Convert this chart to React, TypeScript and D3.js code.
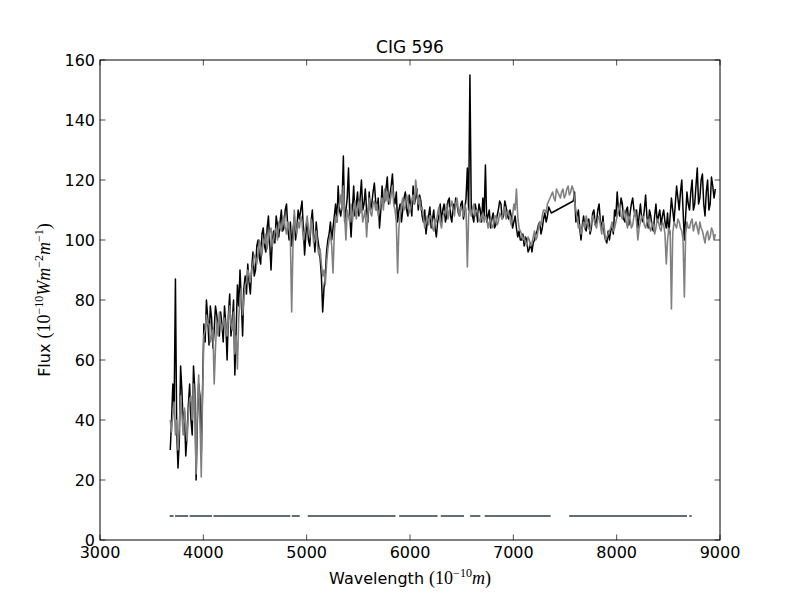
import React from "react";
import * as d3 from "d3";

// wavelength grid (Angstrom), step 12.5
const wlStart = 3680;
const wlStep = 12.5;

// observed spectrum (black), null = not observed
const fluxObs: (number | null)[] = [
  30, 40, 52, 44, 87, 36, 24, 33, 58, 50, 38, 43, 28, 35, 45, 52, 40, 35, 58, 50,
  20, 40, 52, 48, 28, 50, 72, 66, 80, 74, 65, 78, 74, 64, 70, 78, 75, 70, 68, 76,
  72, 66, 78, 72, 60, 75, 82, 68, 73, 80, 55, 70, 85, 78, 90, 80, 68, 84, 88, 82,
  92, 86, 82, 90, 96, 88, 90, 98, 100, 94, 92, 102, 104, 98, 96, 104, 108, 99, 90, 100,
  103, 99, 108, 105, 101, 106, 110, 103, 104, 110, 112, 104, 100, 106, 98, 103, 108, 100, 104, 110,
  107, 110, 113, 104, 95, 102, 107, 100, 98, 106, 110, 102, 96, 106, 101, 98, 94, 88, 76, 84,
  88, 96, 100, 102, 106, 100, 104, 108, 112, 106, 118, 110, 108, 112, 128, 106, 110, 114, 124, 108,
  101, 110, 118, 108, 112, 116, 108, 114, 120, 110, 112, 117, 110, 106, 116, 110, 112, 116, 119, 113,
  110, 114, 104, 110, 118, 112, 113, 117, 121, 112, 115, 118, 122, 114, 112, 116, 106, 110, 112, 106,
  110, 114, 116, 110, 108, 115, 112, 108, 118, 112, 114, 117, 110, 115, 113, 108, 106, 110, 102, 106,
  108, 111, 104, 107, 110, 104, 101, 106, 108, 112, 106, 110, 112, 106, 108, 113, 114, 108, 106, 112,
  110, 114, 112, 109, 108, 112, 113, 107, 110, 114, 124, 110, 155, 112, 108, 106, 112, 110, 106, 112,
  110, 106, 114, 108, 125, 106, 108, 110, 104, 107, 109, 104, 105, 108, 110, 113, 112, 107, 108, 113,
  111, 108, 107, 110, 108, 104, 106, 108, 104, 101, 103, 100, 100, 102, 98, 101, 100, 96, 97, 99,
  96, 99, 100, 102, 103, 105, 106, 102, 104, 107, 109, 106, 108, 111, 110, 109, null, null, null, null,
  null, null, null, null, null, null, null, null, null, null, null, null, 113, 116, 106, 108, 110, 104, 100, 105,
  108, 104, 103, 106, 107, 102, 104, 109, 110, 105, 106, 110, 112, 106, 104, 108, 102, 100, 99, 103,
  100, 103, 105, 102, 110, 108, 116, 110, 108, 114, 112, 107, 106, 110, 111, 105, 109, 112, 114, 110,
  108, 110, 104, 108, 112, 107, 106, 110, 115, 108, 104, 110, 108, 104, 103, 108, 112, 106, 108, 110,
  105, 108, 110, 106, 104, 109, 102, 108, 114, 110, 106, 112, 118, 114, 110, 116, 120, 110, 100, 108,
  116, 112, 110, 116, 120, 110, 112, 118, 124, 112, 114, 120, 122, 112, 108, 116, 120, 110, 112, 121,
  118, 114, 117,
];

// synthetic / model spectrum (gray)
const fluxModel: number[] = [
  40, 36, 42, 46, 35, 40, 30, 38, 48, 42, 35, 44, 38, 33, 42, 47, 48, 40, 52, 45,
  22, 45, 55, 40, 21, 48, 68, 70, 75, 72, 72, 66, 68, 70, 52, 64, 73, 68, 76, 72,
  70, 72, 74, 70, 68, 74, 78, 72, 70, 76, 62, 68, 57, 74, 80, 84, 75, 80, 85, 86,
  90, 88, 86, 90, 92, 95, 94, 92, 96, 100, 98, 95, 100, 99, 102, 97, 100, 103, 104, 98,
  100, 103, 104, 100, 106, 104, 103, 106, 108, 104, 102, 106, 105, 100, 76, 98, 110, 104, 102, 106,
  104, 108, 106, 100, 103, 105, 108, 103, 101, 107, 104, 99, 100, 103, 98, 95, 97, 92, 88, 90,
  85, 92, 97, 100, 102, 98, 89, 102, 108, 106, 110, 112, 115, 110, 118, 108, 100, 110, 108, 106,
  112, 106, 110, 113, 107, 110, 113, 109, 112, 106, 108, 110, 101, 108, 114, 109, 108, 112, 113, 110,
  112, 108, 110, 112, 114, 110, 117, 113, 116, 114, 112, 115, 118, 112, 110, 106, 89, 104, 108, 112,
  114, 110, 111, 115, 113, 109, 110, 113, 115, 112, 120, 116, 112, 114, 110, 111, 108, 104, 106, 108,
  105, 108, 108, 104, 103, 107, 106, 109, 111, 106, 104, 108, 109, 110, 112, 107, 110, 111, 113, 110,
  108, 112, 114, 110, 108, 111, 110, 108, 112, 110, 91, 108, 112, 108, 110, 112, 108, 110, 110, 107,
  106, 108, 109, 106, 108, 107, 104, 106, 107, 104, 105, 108, 108, 105, 106, 109, 108, 107, 110, 111,
  107, 110, 109, 107, 105, 108, 112, 110, 117, 108, 104, 103, 102, 100, 101, 99, 98, 101, 100, 98,
  99, 101, 103, 100, 101, 104, 106, 105, 108, 110, 110, 109, 112, 113, 114, 115, 116, 114, 113, 117,
  116, 115, 114, 116, 117, 114, 115, 117, 118, 115, 116, 118, 117, 113, 110, 107, 104, 105, 102, 104,
  106, 104, 108, 106, 104, 103, 106, 108, 107, 105, 104, 107, 108, 105, 102, 106, 104, 100, 101, 102,
  103, 104, 106, 103, 104, 106, 108, 110, 112, 108, 107, 110, 109, 106, 104, 108, 107, 104, 105, 108,
  110, 106, 100, 104, 106, 108, 108, 105, 104, 106, 107, 104, 103, 106, 105, 102, 104, 107, 106, 104,
  103, 106, 105, 102, 92, 100, 104, 103, 77, 102, 106, 105, 104, 107, 106, 104, 103, 100, 81, 102,
  106, 104, 104, 106, 107, 103, 105, 106, 104, 102, 106, 104, 103, 101, 99, 102, 103, 100, 101, 104,
  103, 100, 102,
];

// fitted-region mask segments (wavelength ranges) drawn at flux level 8
const maskStart = [3674, 3726, 3867, 4098, 4856, 5011, 5895, 6298, 6582, 6723, 7540, 8702];
const maskEnd = [3712, 3853, 4084, 4842, 4933, 5860, 6267, 6523, 6681, 7361, 8681, 8726];
const maskLevel = 8;

const xTicks = [3000, 4000, 5000, 6000, 7000, 8000, 9000];
const yTicks = [0, 20, 40, 60, 80, 100, 120, 140, 160];

export default function App() {
  const W = 800, H = 600;
  const m = { l: 100, r: 720, t: 60, b: 540 };
  const x = d3.scaleLinear().domain([3000, 9000]).range([m.l, m.r]);
  const y = d3.scaleLinear().domain([0, 160]).range([m.b, m.t]);

  const wl = fluxModel.map((_, i) => wlStart + i * wlStep);
  const obsPts = fluxObs
    .map((f, i) => [wl[i], f] as [number, number | null])
    .filter((p) => p[1] !== null) as [number, number][];
  const modPts = fluxModel.map((f, i) => [wl[i], f] as [number, number]);

  const line = d3
    .line<[number, number]>()
    .x((d) => x(d[0]))
    .y((d) => y(d[1]));

  const sans = "DejaVu Sans, sans-serif";
  const serif = "Liberation Serif, DejaVu Serif, serif";
  const tickLen = 5.5;

  return (
    <svg
      width={W}
      height={H}
      style={{ position: "absolute", left: 0, top: 0, background: "#fff" }}
      xmlns="http://www.w3.org/2000/svg"
    >
      <rect x={0} y={0} width={W} height={H} fill="#fff" />
      <defs>
        <clipPath id="plotclip">
          <rect x={m.l} y={m.t} width={m.r - m.l} height={m.b - m.t} />
        </clipPath>
      </defs>
      <g clipPath="url(#plotclip)">
        <path d={line(obsPts) || ""} fill="none" stroke="#000" strokeWidth={1.5} strokeLinejoin="round" />
        <path d={line(modPts) || ""} fill="none" stroke="#808080" strokeWidth={1.6} strokeLinejoin="round" />
        {maskStart.map((s, i) => (
          <line
            key={i}
            x1={x(s)}
            x2={x(maskEnd[i])}
            y1={y(maskLevel)}
            y2={y(maskLevel)}
            stroke="#5f6f76"
            strokeWidth={2}
          />
        ))}
      </g>
      {/* frame */}
      <rect x={m.l} y={m.t} width={m.r - m.l} height={m.b - m.t} fill="none" stroke="#000" strokeWidth={1} />
      {/* x ticks */}
      {xTicks.map((t) => (
        <g key={"x" + t}>
          <line x1={x(t)} x2={x(t)} y1={m.b} y2={m.b - tickLen} stroke="#000" strokeWidth={0.7} />
          <line x1={x(t)} x2={x(t)} y1={m.t} y2={m.t + tickLen} stroke="#000" strokeWidth={0.7} />
          <text x={x(t)} y={m.b + 18} textAnchor="middle" fontFamily={sans} fontSize={16}>
            {t}
          </text>
        </g>
      ))}
      {/* y ticks */}
      {yTicks.map((t) => (
        <g key={"y" + t}>
          <line x1={m.l} x2={m.l + tickLen} y1={y(t)} y2={y(t)} stroke="#000" strokeWidth={0.7} />
          <line x1={m.r} x2={m.r - tickLen} y1={y(t)} y2={y(t)} stroke="#000" strokeWidth={0.7} />
          <text x={m.l - 5} y={y(t) + 6} textAnchor="end" fontFamily={sans} fontSize={16}>
            {t}
          </text>
        </g>
      ))}
      {/* title */}
      <text x={(m.l + m.r) / 2} y={53} textAnchor="middle" fontFamily={sans} fontSize={17}>
        CIG 596
      </text>
      {/* x label */}
      <text x={(m.l + m.r) / 2} y={584} textAnchor="middle" fontFamily={sans} fontSize={16}>
        <tspan>Wavelength </tspan>
        <tspan fontFamily={serif} fontSize={18}>(10</tspan>
        <tspan fontFamily={serif} fontSize={12} dy={-7}>−10</tspan>
        <tspan fontFamily={serif} fontSize={18} fontStyle="italic" dy={7}>m</tspan>
        <tspan fontFamily={serif} fontSize={18}>)</tspan>
      </text>
      {/* y label */}
      <text
        transform={`translate(50,${(m.t + m.b) / 2}) rotate(-90)`}
        textAnchor="middle"
        fontFamily={sans}
        fontSize={16}
      >
        <tspan>Flux </tspan>
        <tspan fontFamily={serif} fontSize={18}>(10</tspan>
        <tspan fontFamily={serif} fontSize={12} dy={-7}>−10</tspan>
        <tspan fontFamily={serif} fontSize={18} fontStyle="italic" dy={7}>Wm</tspan>
        <tspan fontFamily={serif} fontSize={12} dy={-7}>−2</tspan>
        <tspan fontFamily={serif} fontSize={18} fontStyle="italic" dy={7}>m</tspan>
        <tspan fontFamily={serif} fontSize={12} dy={-7}>−1</tspan>
        <tspan fontFamily={serif} fontSize={18} dy={7}>)</tspan>
      </text>
    </svg>
  );
}
